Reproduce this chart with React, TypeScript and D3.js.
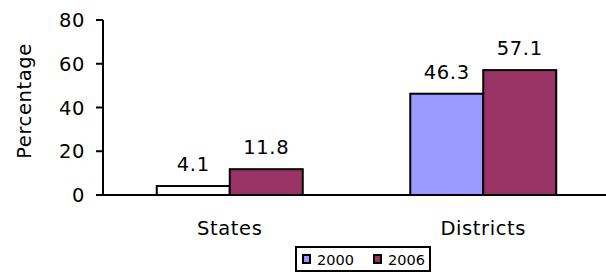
import React from "react";
import * as d3 from "d3";

const categories = ["States", "Districts"];
const seriesNames = ["2000", "2006"];
const values2000 = [4.1, 46.3];
const values2006 = [11.8, 57.1];
const yTicks = [0, 20, 40, 60, 80];

const colors = ["#9999FF", "#993366"];

export default function App() {
  const W = 606, H = 274;
  const x0 = 103, x1 = 610, yBase = 195, yTop = 20;
  const x = d3.scaleBand<string>().domain(categories).range([x0, x1]);
  const xs = d3.scaleBand<string>().domain(seriesNames).range([-73, 73]);
  const y = d3.scaleLinear().domain([0, 80]).range([yBase, yTop]);
  const series = [values2000, values2006];
  const font = "'DejaVu Sans', Verdana, sans-serif";
  const bigStyle = { fontFamily: font, fontSize: 19.5, letterSpacing: 0.6 } as React.CSSProperties;

  return (
    <svg width={W} height={H} style={{ position: "absolute", left: 0, top: 0, background: "#fff" }}>
      {categories.map((c, ci) =>
        seriesNames.map((s, si) => {
          const v = series[si][ci];
          const bx = (x(c) as number) + x.bandwidth() / 2 + (xs(s) as number);
          const fill = ci === 0 && si === 0 ? "#FFFFFF" : colors[si];
          return (
            <g key={c + s}>
              <rect x={bx} y={y(v)} width={xs.bandwidth()} height={yBase - y(v)} fill={fill} stroke="#000" strokeWidth={2} />
              <text x={bx + xs.bandwidth() / 2} y={y(v) - 15} textAnchor="middle" style={bigStyle} fill="#000">
                {v.toFixed(1)}
              </text>
            </g>
          );
        })
      )}
      <line x1={x0} x2={W} y1={yBase} y2={yBase} stroke="#000" strokeWidth={2} />
      <line x1={x0} x2={x0} y1={yTop} y2={yBase} stroke="#000" strokeWidth={2} />
      {yTicks.map((t) => (
        <g key={t}>
          <line x1={x0 - 7} x2={x0} y1={y(t)} y2={y(t)} stroke="#000" strokeWidth={2} />
          <text x={85} y={y(t)} dy="0.36em" textAnchor="end" style={bigStyle} fill="#000">{t}</text>
        </g>
      ))}
      <text transform={`translate(31,101) rotate(-90)`} textAnchor="middle" style={bigStyle} fill="#000">Percentage</text>
      {categories.map((c) => (
        <text key={c} x={(x(c) as number) + x.bandwidth() / 2} y={235} textAnchor="middle" style={bigStyle} fill="#000">{c}</text>
      ))}
      <rect x={296} y={247} width={134} height={24} fill="#fff" stroke="#000" strokeWidth={2} />
      {seriesNames.map((s, i) => (
        <g key={s} transform={`translate(${302 + i * 71},0)`}>
          <rect x={1} y={255} width={7} height={8} fill={colors[i]} stroke="#000" strokeWidth={2} />
          <text x={15} y={265} style={{ fontFamily: font, fontSize: 14.5 }} fill="#000">{s}</text>
        </g>
      ))}
    </svg>
  );
}
